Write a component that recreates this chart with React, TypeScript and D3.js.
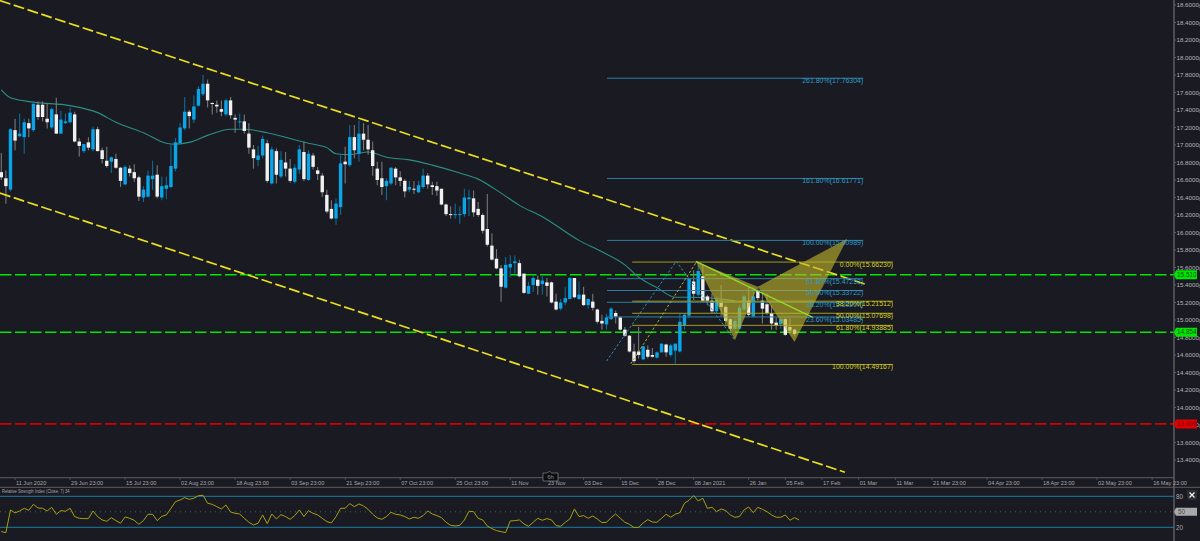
import * as d3 from "d3";

// OHLC per bar
const opens = [
  16.69,16.62,16.49,17.17,17.10,17.09,17.25,17.17,17.46,17.46,
  17.30,17.20,17.35,17.13,17.25,17.26,17.35,17.04,16.93,17.03,
  16.95,17.18,16.94,16.82,16.81,16.84,16.74,16.55,16.73,16.69,
  16.63,16.40,16.41,16.61,16.66,16.40,16.50,16.52,16.73,17.02,
  17.19,17.38,17.29,17.45,17.58,17.70,17.48,17.46,17.41,17.35,
  17.51,17.31,17.26,17.27,17.13,16.95,16.83,16.88,17.02,16.56,
  16.93,16.64,16.80,16.73,16.58,16.72,16.92,16.60,16.88,16.71,
  16.65,16.43,16.27,16.16,16.29,16.81,16.77,17.09,16.90,17.13,
  17.06,16.94,16.73,16.62,16.53,16.56,16.73,16.63,16.59,16.49,
  16.50,16.46,16.52,16.65,16.54,16.53,16.50,16.32,16.21,16.20,
  16.20,16.21,16.38,16.39,16.27,16.20,16.04,15.85,15.70,15.59,
  15.37,15.60,15.65,15.65,15.53,15.30,15.40,15.46,15.41,15.43,
  15.43,15.21,15.13,15.20,15.24,15.48,15.24,15.29,15.17,15.21,
  15.12,14.99,14.95,15.01,15.08,15.03,14.89,14.82,14.64,14.64,
  14.55,14.66,14.60,14.57,14.63,14.72,14.60,14.65,14.64,14.94,
  15.05,15.44,15.29,15.50,15.27,15.22,15.10,15.20,15.15,15.01,
  14.90,14.90,15.12,15.22,15.04,15.34,15.22,15.18,15.08,14.97,
  14.95,15.01,14.92,14.89,
];
const closes = [
  16.63,16.53,17.18,17.05,17.13,17.26,17.19,17.47,17.32,17.32,
  17.26,17.41,17.13,17.29,17.27,17.37,17.04,16.99,17.01,16.97,
  17.18,16.93,16.84,16.76,16.86,16.74,16.59,16.75,16.68,16.62,
  16.41,16.49,16.65,16.65,16.41,16.53,16.54,16.76,17.03,17.20,
  17.38,17.33,17.44,17.64,17.70,17.51,17.47,17.44,17.38,17.51,
  17.34,17.29,17.27,17.16,16.97,16.85,16.88,17.07,16.59,16.95,
  16.66,16.83,16.73,16.59,16.74,16.95,16.61,16.90,16.75,16.67,
  16.46,16.24,16.16,16.33,16.79,16.78,17.09,16.94,17.13,17.06,
  16.95,16.76,16.60,16.52,16.59,16.74,16.63,16.59,16.47,16.52,
  16.49,16.54,16.65,16.55,16.52,16.48,16.32,16.21,16.20,16.21,
  16.21,16.40,16.40,16.23,16.20,16.02,15.86,15.69,15.59,15.38,
  15.63,15.64,15.67,15.50,15.31,15.39,15.48,15.39,15.45,15.39,
  15.20,15.12,15.20,15.25,15.48,15.26,15.29,15.17,15.24,15.14,
  14.98,14.96,15.03,15.13,15.04,14.89,14.82,14.64,14.53,14.60,
  14.70,14.58,14.58,14.63,14.73,14.63,14.71,14.73,14.98,15.06,
  15.47,15.30,15.56,15.22,15.22,15.10,15.23,15.15,14.99,14.90,
  14.99,15.14,15.27,15.06,15.27,15.25,15.13,15.08,14.96,14.94,
  15.01,14.83,14.88,14.84,
];
const highs = [
  16.91,16.71,17.19,17.30,17.36,17.30,17.30,17.50,17.50,17.50,
  17.48,17.43,17.54,17.39,17.36,17.43,17.38,17.08,17.01,17.09,
  17.21,17.21,16.97,16.98,16.87,16.90,16.75,16.77,16.77,16.78,
  16.65,16.53,16.71,16.82,16.77,16.64,16.64,17.01,17.08,17.25,
  17.55,17.40,17.57,17.67,17.80,17.75,17.49,17.51,17.51,17.53,
  17.55,17.35,17.36,17.35,17.25,17.00,16.99,17.11,17.06,16.98,
  16.96,16.93,16.92,16.84,16.78,17.00,17.04,16.94,16.91,16.75,
  16.68,16.49,16.37,16.39,16.90,16.98,17.23,17.23,17.28,17.25,
  17.23,17.04,16.81,16.81,16.62,16.75,16.75,16.70,16.61,16.59,
  16.59,16.59,16.73,16.68,16.58,16.58,16.50,16.33,16.30,16.33,
  16.30,16.50,16.49,16.48,16.35,16.22,16.44,15.99,15.81,15.63,
  15.72,15.74,15.74,15.69,15.53,15.44,15.51,15.51,15.51,15.48,
  15.44,15.30,15.24,15.38,15.49,15.48,15.44,15.38,15.25,15.30,
  15.13,15.06,15.07,15.15,15.11,15.04,14.92,14.83,14.73,14.92,
  14.70,14.71,14.68,14.64,14.73,14.73,14.73,14.73,15.08,15.08,
  15.48,15.57,15.63,15.63,15.29,15.30,15.27,15.40,15.17,15.02,
  15.03,15.17,15.29,15.38,15.38,15.38,15.32,15.30,15.17,15.03,
  15.03,15.03,15.02,14.90,
];
const lows = [
  16.60,16.33,16.47,16.94,17.09,16.90,17.09,17.15,17.29,17.27,
  17.19,17.18,17.13,17.13,17.24,17.25,17.03,16.87,16.91,16.94,
  16.93,16.93,16.79,16.74,16.68,16.73,16.52,16.54,16.64,16.58,
  16.36,16.35,16.40,16.49,16.39,16.37,16.38,16.51,16.70,17.00,
  17.17,17.19,17.25,17.44,17.56,17.43,17.35,17.37,17.33,17.33,
  17.30,17.14,17.20,17.13,16.90,16.73,16.76,16.85,16.57,16.55,
  16.56,16.62,16.64,16.57,16.56,16.67,16.59,16.59,16.72,16.60,
  16.41,16.22,16.15,16.09,16.20,16.56,16.75,16.85,16.81,16.94,
  16.89,16.65,16.54,16.43,16.37,16.54,16.54,16.53,16.40,16.46,
  16.44,16.45,16.50,16.50,16.43,16.42,16.31,16.19,16.16,16.16,
  16.10,16.18,16.19,16.18,16.18,15.99,15.84,15.68,15.58,15.21,
  15.36,15.49,15.53,15.49,15.30,15.30,15.32,15.29,15.29,15.27,
  15.19,15.11,15.11,15.17,15.24,15.25,15.23,15.16,15.13,15.11,
  14.96,14.89,14.89,15.00,14.96,14.88,14.81,14.63,14.51,14.56,
  14.54,14.56,14.57,14.56,14.63,14.58,14.58,14.50,14.63,14.89,
  15.02,15.23,15.27,15.21,15.17,15.08,15.08,15.04,14.94,14.87,
  14.89,14.89,15.10,15.04,15.03,15.23,14.96,15.06,14.89,14.89,
  14.90,14.82,14.85,14.82,
];

// moving average, vertices read by eye
const maBars = [0,2,7,15,21,25,31,36,38,41,45,50,53,58,64,67,71,73,76,80,84,89,94,100,104,109,113,118,126,131,136,139,143,147,150,155,160];
const maValues = [17.63,17.54,17.49,17.45,17.37,17.26,17.14,17.02,17.01,17.03,17.11,17.18,17.18,17.14,17.06,17.02,16.97,16.90,16.89,16.92,16.86,16.83,16.77,16.68,16.61,16.45,16.31,16.18,15.91,15.78,15.63,15.49,15.37,15.26,15.26,15.25,15.22];

const rsi = [
  11.6,9.7,53.6,47.8,51.6,56.8,52.9,64.5,57.4,56.8,51.6,58.7,45.2,52.3,51,56.8,40.7,37.4,36.8,36.8,
  51.6,40.7,34.2,31.6,38.7,32.9,27.8,40,37.4,33.6,25.8,32.9,45.2,45.2,32.9,41.3,43.9,56.8,69.7,72.9,
  77.4,74.2,76.1,81.3,81.9,66.5,64.5,60,55.5,63.2,49.7,47.1,45.8,37.4,29.7,24.5,27.8,43.9,27.1,45.8,
  36.1,44.5,40.7,35.5,42.6,53.6,40.7,52.3,47.1,43.9,37.4,31,28.4,40.7,56.8,56.8,65.8,60,65.2,61.3,
  54.8,45.2,38.1,35.5,40.7,49,45.2,43.9,40.7,36.1,39.4,37.4,42.6,51.6,45.8,42.6,38.7,29.7,23.9,22.6,
  23.9,34.2,51,50.3,37.4,34.2,22.6,17.4,13.6,11.6,9.7,32.3,32.9,34.2,26.5,22,29.7,37.4,33.6,36.8,
  34.2,23.2,22,29.7,36.1,55.5,40.7,42.6,37.4,41.9,36.1,29,29.7,38.7,45.8,37.4,29.7,25.8,19.4,20,
  28.4,34.9,30.3,29.7,37.4,45.2,39.4,45.2,48.4,66.5,72.3,81.3,71,76.1,56.8,58.7,50.3,55.5,52.3,43.9,
  39.4,40.7,53.6,59.4,48.4,58.7,54.8,50.3,43.9,39.4,39.4,43.9,33.6,38.7,34.2,
];

const priceTicks = d3.range(0, 27).map((i) => 13.4 + i * 0.2);
const timeBars = [3,15,27,39,51,63,75,87,99,111,119,127,135,143,151,163,171,179,187,195,203,215,227,239,251];
const timeLabels = [
  "11 Jun 2020","29 Jun 23:00","15 Jul 23:00","02 Aug 23:00","18 Aug 23:00","03 Sep 23:00","21 Sep 23:00",
  "07 Oct 23:00","25 Oct 23:00","11 Nov","23 Nov","03 Dec","15 Dec","28 Dec","08 Jan 2021","26 Jan","05 Feb",
  "17 Feb","01 Mar","11 Mar","21 Mar 23:00","04 Apr 23:00","18 Apr 23:00","02 May 23:00","16 May 23:00",
];

// fib levels
const blueFibNames = ["261.80%","161.80%","100.00%","61.80%","50.00%","38.20%","23.60%"];
const blueFibValues = [17.76304,16.61771,15.90989,15.47253,15.33722,15.20207,15.03485];
const yellowFibNames = ["0.00%","38.20%","50.00%","61.80%","100.00%"];
const yellowFibValues = [15.6623,15.21512,15.07698,14.93885,14.49167];
const blueFibSpan = [132.1, 188];
const yellowFibSpan = [137.6, 194.5];

// drawn objects, as [bar, price]
const channelUpper = [[-0.3,18.65],[189,15.4]];
const channelLower = [[-0.3,16.45],[184,13.26]];
const tealTrend = [[132,14.53],[147.2,15.67],[160,14.77]];
const yellowTrend = [[137.3,14.5],[151.7,15.67]];
const patternLeft = [[151.5,15.67],[160,14.77],[165,15.38]];
const patternRight = [[165,15.38],[173,14.75],[184.5,15.93]];
const patternEdge = [[151.5,15.67],[177,15.03]];

const levelPrices = [15.51,14.854,13.806];
const levelColors = ["#00e600","#00e600","#d40000"];

const UP = "#0aa5e8";
const DOWN = "#f1f1f1";
const AXIS = "#5c5c62";
const FONT = "'Liberation Sans',sans-serif";

const x = d3.scaleLinear().domain([0, 100]).range([1.3, 459.8]);
const y = d3.scaleLinear().domain([13.4, 18.6]).range([460, 5]);
const rsiY = d3.scaleLinear().domain([20, 80]).range([527.3, 496.3]);

const path = d3.line<number[]>().x((d) => x(d[0])).y((d) => y(d[1]));
const maPath = d3
  .line<number>()
  .x((d) => x(d))
  .y((_, i) => y(maValues[i]))
  .curve(d3.curveMonotoneX);
const rsiPath = d3
  .line<number>()
  .x((_, i) => x(i))
  .y((d) => rsiY(d));

export default function App() {
  const barW = 3.4;
  return (
    <svg
      width={1200}
      height={541}
      style={{ position: "absolute", left: 0, top: 0, background: "#1a1a22", fontFamily: FONT }}
    >
      <defs>
        <clipPath id="main">
          <rect x={0} y={0} width={1174} height={477} />
        </clipPath>
      </defs>

      <g clipPath="url(#main)">
        {levelPrices.map((p, i) => (
          <line key={p} x1={0} x2={1174} y1={y(p) - 0.6} y2={y(p) - 0.6} stroke={levelColors[i]} strokeWidth={1.6} strokeDasharray="11.5 3.5" />
        ))}

        <path d={maPath(maBars) ?? ""} fill="none" stroke="#2b8f86" strokeWidth={1.1} />

        {opens.map((o, i) => {
          const c = closes[i];
          const up = c >= o;
          const top = y(Math.max(o, c));
          const h = Math.max(1, y(Math.min(o, c)) - top);
          return (
            <g key={i}>
              <line x1={x(i)} x2={x(i)} y1={y(highs[i])} y2={y(lows[i])} stroke={up ? "#0c6c98" : "#77777b"} strokeWidth={1.1} />
              <rect x={x(i) - barW / 2} y={top} width={barW} height={h} fill={up ? UP : DOWN} />
            </g>
          );
        })}

        <path d={path(channelUpper) ?? ""} stroke="#e9df1c" strokeWidth={1.7} strokeDasharray="11 3.5" fill="none" />
        <path d={path(channelLower) ?? ""} stroke="#e9df1c" strokeWidth={1.7} strokeDasharray="11 3.5" fill="none" />

        {blueFibValues.map((v) => (
          <line key={v} x1={x(blueFibSpan[0])} x2={x(blueFibSpan[1])} y1={y(v)} y2={y(v)} stroke="#2f7f9e" strokeWidth={1} />
        ))}
        {yellowFibValues.map((v) => (
          <line key={v} x1={x(yellowFibSpan[0])} x2={x(yellowFibSpan[1])} y1={y(v)} y2={y(v)} stroke="#a09c1a" strokeWidth={1} />
        ))}
        <path d={path(tealTrend) ?? ""} stroke="#2f8fb5" strokeWidth={1} strokeDasharray="2.5 2" fill="none" />
        <path d={path(yellowTrend) ?? ""} stroke="#b0ac3a" strokeWidth={1} strokeDasharray="2.5 2" fill="none" />

        <path d={(path(patternLeft) ?? "") + "Z"} fill="#c0b52a" fillOpacity={0.62} />
        <path d={(path(patternRight) ?? "") + "Z"} fill="#c0b52a" fillOpacity={0.62} />
        <path d={path(patternEdge) ?? ""} stroke="#93d92a" strokeWidth={1.5} fill="none" />

        {blueFibValues.map((v, i) => (
          <text key={v} transform={`translate(${x(blueFibSpan[1])},${y(v) + 5}) scale(0.94,1)`} textAnchor="end" fontSize={7.4} fill="#2f9cc8">
            {blueFibNames[i]}({v.toFixed(5)})
          </text>
        ))}
        {yellowFibValues.map((v, i) => (
          <text key={v} transform={`translate(${x(yellowFibSpan[1])},${y(v) + 5}) scale(0.94,1)`} textAnchor="end" fontSize={7.4} fill="#d6cf22">
            {yellowFibNames[i]}({v.toFixed(5)})
          </text>
        ))}
      </g>

      {/* price axis */}
      <line x1={1174} x2={1174} y1={0} y2={541} stroke={AXIS} strokeWidth={1.5} />
      {priceTicks.map((p) => (
        <g key={p} transform={`translate(1174,${y(p)})`}>
          <line x1={0} x2={2} stroke={AXIS} />
          <text x={2.5} y={2} fontSize={6.2} fill="#b5b5b8">
            {p.toFixed(4)}
            <tspan fontSize={4.5} dy={1}>0</tspan>
          </text>
        </g>
      ))}
      {levelPrices.map((p, i) => (
        <g key={p} transform={`translate(1174,${y(p) - 0.6})`}>
          <path d="M0,0 L2,-4.5 H23 V4.5 H2 Z" fill={levelColors[i] === "#d40000" ? "#e00000" : "#00e600"} />
          <text x={3} y={2.3} fontSize={6.4} fill={levelColors[i] === "#d40000" ? "#7a0000" : "#064d06"}>
            {p.toFixed(3)}
          </text>
        </g>
      ))}

      {/* time axis */}
      <line x1={0} x2={1174} y1={477.7} y2={477.7} stroke={AXIS} strokeWidth={1} />
      <line x1={0} x2={1200} y1={487.3} y2={487.3} stroke={AXIS} strokeWidth={1} />
      {timeBars.map((b, i) => (
        <g key={b} transform={`translate(${x(b)},477.7)`}>
          <line y1={0} y2={2} stroke={AXIS} />
          <text transform="translate(1,7.2) scale(0.9,1)" fontSize={6.2} fill="#a8a8ac">{timeLabels[i]}</text>
        </g>
      ))}
      <path d="M543,473 H547.5 L549.5,471 L551.5,473 H558 V481 H543 Z" fill="#0c0c10" stroke="#77777b" strokeWidth={0.8} />
      <text x={550.5} y={479} fontSize={6} textAnchor="middle" fill="#8a8a8e">6h</text>

      {/* RSI */}
      <text transform="translate(2,493) scale(0.75,1)" fontSize={5.5} fill="#a8a8ac">Relative Strength Index (Close, 7) 34</text>
      <line x1={0} x2={1174} y1={rsiY(80)} y2={rsiY(80)} stroke="#1c7ca4" strokeWidth={1} />
      <line x1={0} x2={1174} y1={rsiY(20)} y2={rsiY(20)} stroke="#1c7ca4" strokeWidth={1} />
      <line x1={0} x2={1174} y1={rsiY(50)} y2={rsiY(50)} stroke="#55555a" strokeWidth={1} strokeDasharray="1 4" />
      <path d={rsiPath(rsi) ?? ""} fill="none" stroke="#a7a112" strokeWidth={1} />
      {[80, 20].map((v) => (
        <text key={v} x={1176} y={rsiY(v) + 2.2} fontSize={6.4} fill="#a8a8ac">{v}</text>
      ))}
      <path d={`M1174,${rsiY(50)} L1176,${rsiY(50) - 4} H1197 V${rsiY(50) + 4} H1176 Z`} fill="#a9a9a9" />
      <text x={1178} y={rsiY(50) + 2.3} fontSize={6.4} fill="#4a4a4a">50</text>
      <rect x={1187} y={490} width={10} height={10} rx={1} fill="#2b2b31" />
      <path d="M1189.5,492.5 L1194.5,497.5 M1194.5,492.5 L1189.5,497.5" stroke="#f2f2f2" strokeWidth={1.2} />
    </svg>
  );
}
